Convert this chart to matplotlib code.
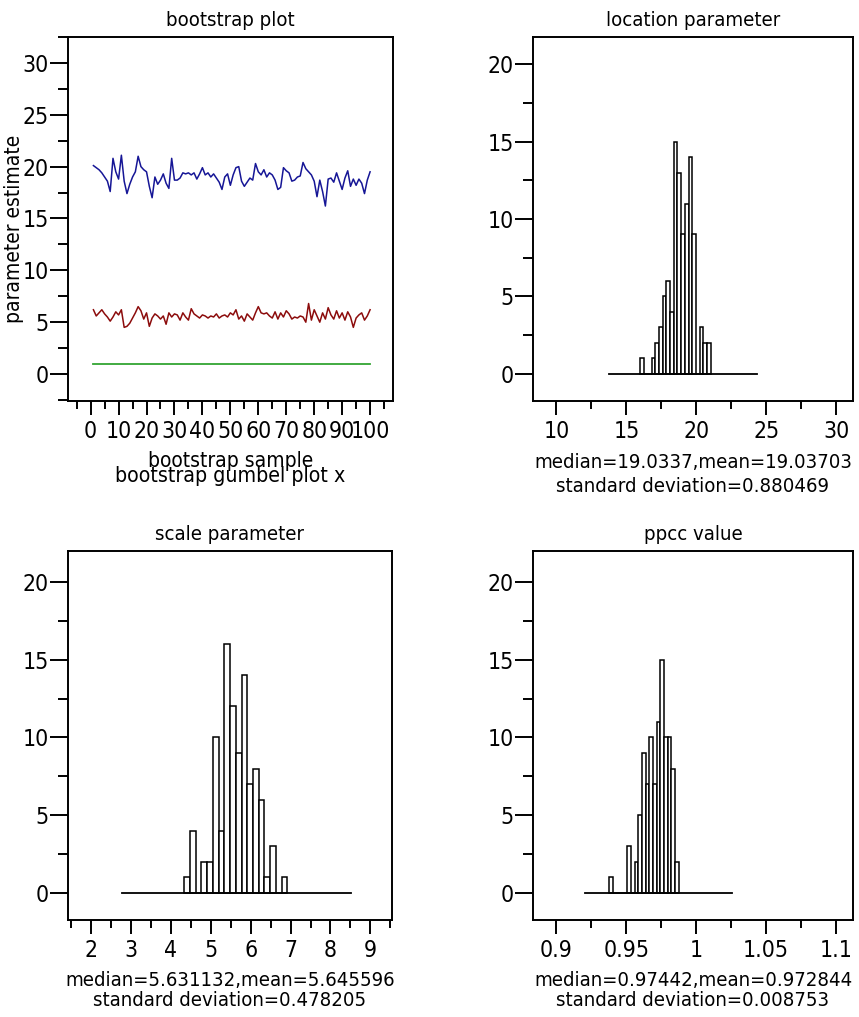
import matplotlib.pyplot as plt
from matplotlib.ticker import MultipleLocator, FuncFormatter

# bootstrap sample number and the three parameter estimates for each sample
sample = list(range(1, 101))

location_est = [
    20.1, 19.9, 19.7, 19.4, 19.0, 18.6, 17.6, 20.8, 19.5, 18.8,
    21.1, 18.6, 17.4, 18.3, 19.0, 19.5, 21.0, 20.0, 19.7, 19.5,
    18.1, 17.0, 19.0, 18.3, 18.7, 19.3, 18.4, 17.9, 20.8, 18.7,
    18.7, 18.9, 19.4, 19.3, 19.4, 19.2, 19.4, 18.8, 19.3, 19.9,
    19.2, 19.4, 19.0, 19.3, 18.9, 18.5, 17.8, 19.0, 19.3, 18.2,
    19.2, 19.9, 20.0, 18.6, 18.1, 18.5, 18.9, 18.7, 20.3, 19.5,
    19.2, 19.7, 19.0, 19.4, 19.2, 18.7, 17.8, 18.0, 19.9, 19.6,
    19.4, 18.6, 18.7, 19.0, 19.1, 20.4, 19.8, 19.5, 19.2, 18.6,
    17.1, 18.7, 17.6, 16.2, 18.8, 18.9, 18.5, 19.4, 18.6, 17.8,
    18.9, 19.6, 18.1, 18.8, 18.2, 18.8, 18.4, 17.4, 18.7, 19.5,
]

scale_est = [
    6.2, 5.6, 5.9, 6.2, 5.8, 5.5, 5.1, 5.5, 6.0, 5.7,
    6.2, 4.5, 4.6, 4.9, 5.4, 5.9, 6.5, 6.1, 5.3, 5.9,
    4.6, 5.4, 5.8, 5.6, 5.3, 5.6, 4.8, 5.9, 5.5, 5.8,
    5.7, 5.2, 5.9, 5.5, 5.2, 6.3, 5.8, 5.6, 5.4, 5.7,
    5.6, 5.4, 5.6, 5.5, 5.8, 5.4, 5.6, 5.7, 5.5, 5.9,
    5.7, 6.2, 5.3, 5.6, 5.1, 5.8, 5.5, 5.2, 5.9, 6.5,
    5.9, 5.8, 5.9, 5.6, 5.4, 6.0, 5.3, 5.9, 5.5, 6.1,
    5.8, 5.3, 5.5, 5.4, 5.6, 5.5, 5.0, 6.8, 5.2, 6.2,
    5.6, 5.0, 5.9, 5.3, 6.4, 5.7, 5.3, 6.1, 5.4, 5.9,
    5.2, 6.0, 5.5, 4.5, 5.4, 5.7, 5.9, 5.2, 5.6, 6.2,
]

ppcc_est = [
    0.97, 0.97, 0.97, 0.97, 0.97, 0.97, 0.97, 0.97, 0.97, 0.97,
    0.97, 0.97, 0.97, 0.97, 0.97, 0.97, 0.97, 0.97, 0.97, 0.97,
    0.97, 0.97, 0.97, 0.97, 0.97, 0.97, 0.97, 0.97, 0.97, 0.97,
    0.97, 0.97, 0.97, 0.97, 0.97, 0.97, 0.97, 0.97, 0.97, 0.97,
    0.97, 0.97, 0.97, 0.97, 0.97, 0.97, 0.97, 0.97, 0.97, 0.97,
    0.97, 0.97, 0.97, 0.97, 0.97, 0.97, 0.97, 0.97, 0.97, 0.97,
    0.97, 0.97, 0.97, 0.97, 0.97, 0.97, 0.97, 0.97, 0.97, 0.97,
    0.97, 0.97, 0.97, 0.97, 0.97, 0.97, 0.97, 0.97, 0.97, 0.97,
    0.97, 0.97, 0.97, 0.97, 0.97, 0.97, 0.97, 0.97, 0.97, 0.97,
    0.97, 0.97, 0.97, 0.97, 0.97, 0.97, 0.97, 0.97, 0.97, 0.97,
]

# histogram class counts (class width = 0.3 * sd), starting at the first occupied class
loc_counts = [1, 0, 0, 1, 2, 3, 5, 6, 4, 15, 13, 9, 11, 14, 9, 0, 3, 2, 2]
loc_start = 16.01
loc_median, loc_mean, loc_sd = 19.0337, 19.03703, 0.880469

scale_counts = [1, 4, 0, 2, 2, 10, 4, 16, 12, 9, 14, 7, 8, 6, 1, 3, 0, 1]
scale_start = 4.34
scale_median, scale_mean, scale_sd = 5.631132, 5.645596, 0.478205

ppcc_counts = [1, 0, 0, 0, 0, 3, 0, 2, 5, 9, 7, 10, 7, 11, 15, 10, 10, 8, 2]
ppcc_start = 0.9375
ppcc_median, ppcc_mean, ppcc_sd = 0.97442, 0.972844, 0.008753

plt.rcParams['font.family'] = ['DejaVu Sans']
plt.rcParams['font.stretch'] = 'condensed'
TICK_SIZE = 16.5
TEXT_SIZE = 14.6

W, H = 859, 1017
fig = plt.figure(figsize=(W / 100, H / 100), dpi=100)


def px_axes(left, top, right, bottom):
    return fig.add_axes([left / W, 1 - bottom / H, (right - left) / W, (bottom - top) / H])


def style(ax, xmajor, xminor, ymajor, yminor):
    for s in ax.spines.values():
        s.set_linewidth(1.4)
    ax.xaxis.set_major_locator(MultipleLocator(xmajor))
    ax.xaxis.set_minor_locator(MultipleLocator(xminor))
    ax.yaxis.set_major_locator(MultipleLocator(ymajor))
    ax.yaxis.set_minor_locator(MultipleLocator(yminor))
    ax.xaxis.set_major_formatter(FuncFormatter(lambda v, p: f"{v:g}"))
    ax.yaxis.set_major_formatter(FuncFormatter(lambda v, p: f"{v:g}"))
    ax.tick_params(which='both', direction='out', width=1.4, labelsize=TICK_SIZE)
    ax.tick_params(axis='y', which='major', length=13, pad=1)
    ax.tick_params(axis='y', which='minor', length=7)
    ax.tick_params(axis='x', which='major', length=10, pad=4)
    ax.tick_params(axis='x', which='minor', length=6)


def hist_panel(ax, counts, start, median, mean, sd, title, label_y):
    width = 0.3 * sd
    edges = [start + k * width for k in range(len(counts))]
    ax.plot([mean - 6 * sd, mean + 6 * sd], [0, 0], color='black', lw=1.3)
    ax.bar(edges, counts, width=width, align='edge', facecolor='white',
           edgecolor='black', linewidth=1.1)
    ax.set_title(title, fontsize=TEXT_SIZE, pad=8)
    bb = ax.get_position()
    xc = (bb.x0 + bb.x1) / 2
    fig.text(xc, label_y[0], f"median={median},mean={mean}", ha='center', va='center',
             fontsize=TEXT_SIZE)
    fig.text(xc, label_y[1], f"standard deviation={sd}", ha='center', va='center',
             fontsize=TEXT_SIZE)


# --- bootstrap plot ---
ax1 = px_axes(68, 37, 393, 401)
ax1.plot(sample, location_est, color='#161696', lw=1.1)
ax1.plot(sample, scale_est, color='#8c0c0c', lw=1.1)
ax1.plot(sample, ppcc_est, color='#33a533', lw=1.3)
ax1.set_xlim(-8.1, 108.2)
ax1.set_ylim(-2.6, 32.5)
style(ax1, 10, 5, 5, 2.5)
ax1.set_title('bootstrap plot', fontsize=TEXT_SIZE, pad=8)
fig.text(14 / W, 1 - 229 / H, 'parameter estimate', rotation=90, ha='center', va='center',
         fontsize=15)
fig.text(230.5 / W, 1 - 461 / H, 'bootstrap sample', ha='center', va='center',
         fontsize=15)
fig.text(230.5 / W, 1 - 476 / H, 'bootstrap gumbel plot x', ha='center', va='center',
         fontsize=15.3)

# --- location parameter ---
ax2 = px_axes(533, 37, 853, 401)
ax2.set_xlim(8.33, 31.2)
ax2.set_ylim(-1.75, 21.75)
style(ax2, 5, 2.5, 5, 2.5)
hist_panel(ax2, loc_counts, loc_start, loc_median, loc_mean, loc_sd,
           'location parameter', (1 - 462 / H, 1 - 486 / H))

# --- scale parameter ---
ax3 = px_axes(68, 551, 392, 920)
ax3.set_xlim(1.43, 9.54)
ax3.set_ylim(-1.75, 22.0)
style(ax3, 1, 0.5, 5, 2.5)
hist_panel(ax3, scale_counts, scale_start, scale_median, scale_mean, scale_sd,
           'scale parameter', (1 - 980 / H, 1 - 1001 / H))

# --- ppcc value ---
ax4 = px_axes(533, 551, 853, 920)
ax4.set_xlim(0.8832, 1.1122)
ax4.set_ylim(-1.75, 22.0)
style(ax4, 0.05, 0.025, 5, 2.5)
hist_panel(ax4, ppcc_counts, ppcc_start, ppcc_median, ppcc_mean, ppcc_sd,
           'ppcc value', (1 - 980 / H, 1 - 1001 / H))

fig.savefig('out.png', dpi=100)
